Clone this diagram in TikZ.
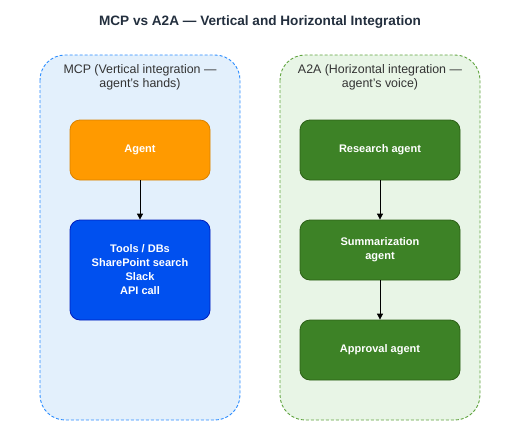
\documentclass[tikz,border=0pt]{standalone}
\usepackage{fontspec}
\setmainfont{Liberation Sans}
\usetikzlibrary{arrows.meta}
\definecolor{titlec}{HTML}{232F3E}
\definecolor{lblc}{HTML}{333333}
\definecolor{bluefill}{HTML}{E3F0FC}
\definecolor{bluedash}{HTML}{2A8CFF}
\definecolor{greenfill}{HTML}{E8F5E6}
\definecolor{greendash}{HTML}{5FA33E}
\definecolor{orangefill}{HTML}{FF9A00}
\definecolor{orangeline}{HTML}{D98200}
\definecolor{toolfill}{HTML}{0050EF}
\definecolor{toolline}{HTML}{001DBC}
\definecolor{agfill}{HTML}{3D8226}
\definecolor{agline}{HTML}{2D6016}
\tikzset{
  container/.style={rounded corners=25pt, dashed, dash pattern=on 3pt off 2pt, line width=0.9pt},
  box/.style={rounded corners=10pt, line width=0.8pt, text=white, font=\bfseries\fontsize{11}{14}\selectfont, align=center, inner sep=0pt},
  conn/.style={-{Triangle[length=6pt,width=6pt]}, line width=0.8pt},
  lbl/.style={text=lblc, font=\fontsize{12.4}{14.5}\selectfont, align=center}
}
\begin{document}
\begin{tikzpicture}[x=1pt,y=-1pt]
\useasboundingbox (0,0) rectangle (520,440);
\node[text=titlec, font=\bfseries\fontsize{13.6}{16}\selectfont] (title) at (260,22.5) {MCP vs A2A — Vertical and Horizontal Integration};
% containers
\draw[container, draw=bluedash, fill=bluefill] (40,55) rectangle (240,420);
\draw[container, draw=greendash, fill=greenfill] (280,55) rectangle (480,420);
\node[lbl] (mcplbl) at (140,77.5) {MCP (Vertical integration —\\agent's hands)};
\node[lbl] (a2albl) at (380,77.5) {A2A (Horizontal integration —\\agent's voice)};
% left boxes
\node[box, fill=orangefill, draw=orangeline, minimum width=140pt, minimum height=60pt] (agent) at (140,150) {Agent};
\node[box, fill=toolfill, draw=toolline, minimum width=140pt, minimum height=100pt] (tools) at (140,270) {Tools / DBs\\SharePoint search\\Slack\\API call};
% right boxes
\node[box, fill=agfill, draw=agline, minimum width=160pt, minimum height=60pt] (research) at (380,150) {Research agent};
\node[box, fill=agfill, draw=agline, minimum width=160pt, minimum height=60pt] (summ) at (380,250) {Summarization\\agent};
\node[box, fill=agfill, draw=agline, minimum width=160pt, minimum height=60pt] (approval) at (380,350) {Approval agent};
% connectors
\draw[conn] (agent) -- (tools);
\draw[conn] (research) -- (summ);
\draw[conn] (summ) -- (approval);
\end{tikzpicture}
\end{document}
